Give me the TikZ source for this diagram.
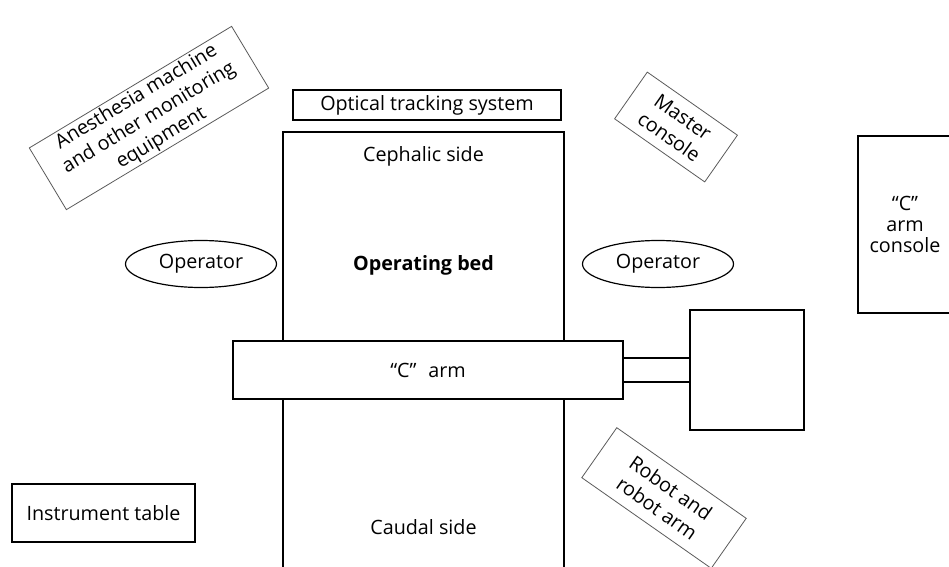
\documentclass[tikz,border=0pt]{standalone}
\usepackage{fontspec}
\setmainfont{Open Sans}
\usetikzlibrary{shapes.geometric}
\definecolor{edgegray}{RGB}{90,90,90}

\begin{document}
\begin{tikzpicture}[x=0.75pt,y=-0.75pt,font=\fontsize{14.8}{16}\selectfont]
  \tikzset{B/.style={draw=black, line width=1.1pt, inner sep=0pt}}
  \tikzset{T/.style={draw=edgegray, line width=0.6pt, inner sep=0pt, align=center,
      font=\fontsize{14.8}{18}\selectfont}}
  \tikzset{OP/.style={ellipse, draw=black, line width=0.9pt, inner sep=0pt,
      minimum width=151*0.75pt, minimum height=47*0.75pt}}
  \useasboundingbox (0,0) rectangle (949,567);

  % bed and its labels
  \node [B, minimum width=281*0.75pt, minimum height=443*0.75pt] (bed) at (423.5,353.5) {};
  \node (cephalic) at (423.5,156) {Cephalic side};
  \node [font=\fontsize{14.8}{16}\selectfont\bfseries] (bedlabel) at (423.5,265) {Operating bed};
  \node (caudal) at (423.5,527) {Caudal side};
  \node [B, minimum width=268*0.75pt, minimum height=30*0.75pt] (optical) at (427,105) {Optical tracking system};

  % C arm
  \node [B, fill=white, minimum width=390*0.75pt, minimum height=58*0.75pt] (carm) at (428,370) {“C”\hspace{0.6em}arm};
  \node [B, minimum width=114*0.75pt, minimum height=120*0.75pt] (armbox) at (747,370) {};
  \foreach \y in {358,382}
    \draw [line width=1.1pt] (carm.east |- 0,\y) -- (armbox.west |- 0,\y);
  \node [B, align=center, minimum width=94*0.75pt, minimum height=177*0.75pt] (console) at (905,224.5) {“C”\\arm\\console};

  % people and tables
  \node [OP] (opl) at (201,264) {Operator};
  \node [OP] (opr) at (658,264) {Operator};
  \node [B, minimum width=183*0.75pt, minimum height=58*0.75pt] (table) at (103.5,513) {Instrument table};

  % tilted boxes
  \node [T, rotate=31, minimum width=236*0.75pt, minimum height=72*0.75pt] (anesth) at (149,118)
    {Anesthesia machine\\and other monitoring\\equipment};
  \node [T, rotate=-35, minimum width=110*0.75pt, minimum height=57*0.75pt] (master) at (676,127)
    {Master\\console};
  \node [T, rotate=-35, minimum width=158*0.75pt, minimum height=61*0.75pt] (robot) at (664,498)
    {Robot and\\robot arm};
\end{tikzpicture}
\end{document}
